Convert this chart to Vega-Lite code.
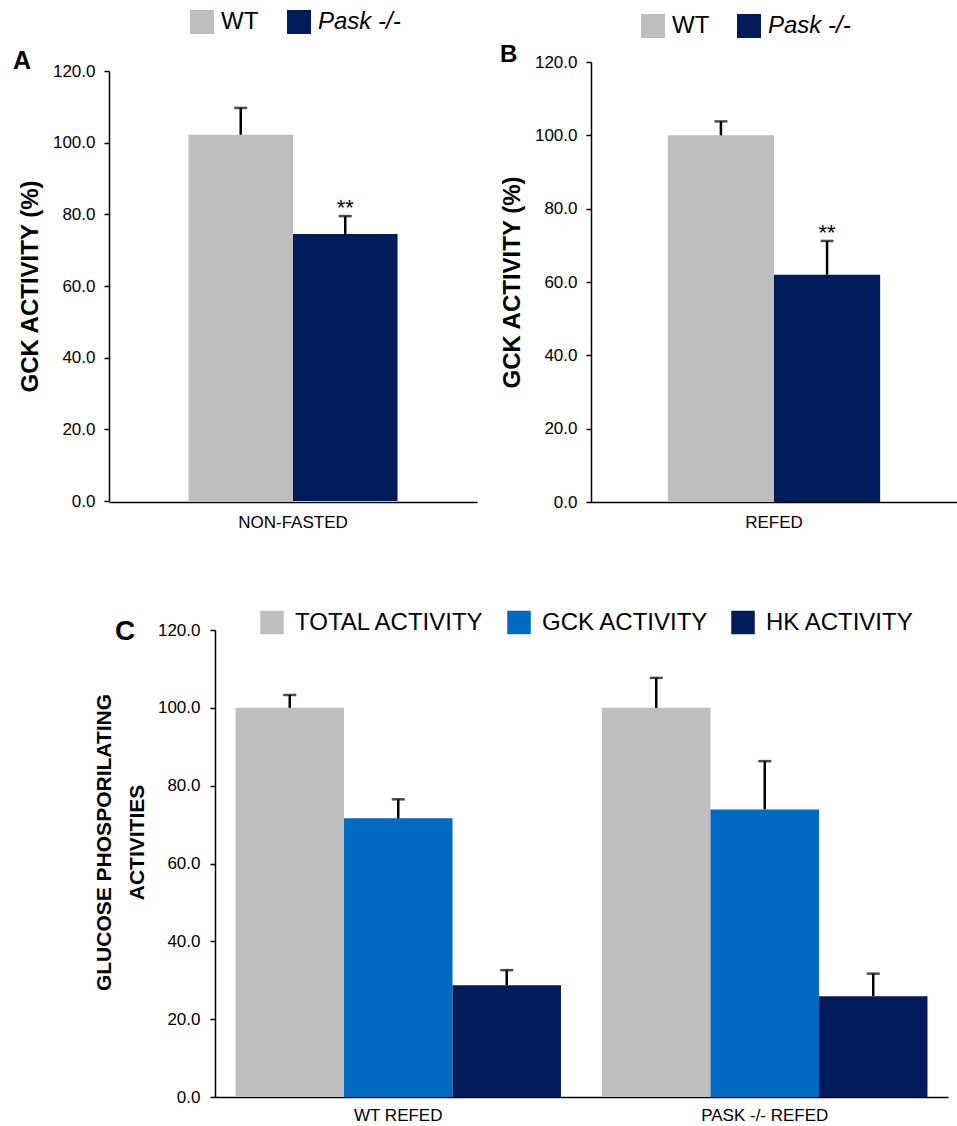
{
  "$schema": "https://vega.github.io/schema/vega-lite/v6.json",
  "usermeta": {"embedOptions": {"actions": false}},
  "padding": {"left": 13, "top": 10, "right": 0, "bottom": 0},
  "config": {
    "font": "Liberation Sans",
    "view": {"stroke": null},
    "axis": {"domainColor": "#000", "tickColor": "#000", "labelColor": "#000", "titleColor": "#000", "grid": false, "domainWidth": 1.5, "tickWidth": 1.5, "labelFontSize": 17, "labelFont": "Liberation Sans", "titleFont": "Liberation Sans"},
    "legend": {"labelFont": "Liberation Sans", "labelColor": "#000", "labelLimit": 400},
    "title": {"font": "Liberation Sans", "color": "#000"}
  },
  "datasets": {
    "panelA": [
      {"group": "NON-FASTED", "genotype": "WT", "value": 102.2, "upper": 109.7, "sig": ""},
      {"group": "NON-FASTED", "genotype": "Pask -/-", "value": 74.5, "upper": 79.5, "sig": "**"}
    ],
    "panelB": [
      {"group": "REFED", "genotype": "WT", "value": 100.0, "upper": 103.8, "sig": ""},
      {"group": "REFED", "genotype": "Pask -/-", "value": 62.0, "upper": 71.2, "sig": "**"}
    ],
    "panelC": [
      {"group": "WT REFED", "activity": "TOTAL ACTIVITY", "value": 100.0, "upper": 103.3},
      {"group": "WT REFED", "activity": "GCK ACTIVITY", "value": 71.6, "upper": 76.5},
      {"group": "WT REFED", "activity": "HK ACTIVITY", "value": 28.7, "upper": 32.6},
      {"group": "PASK -/-  REFED", "activity": "TOTAL ACTIVITY", "value": 100.0, "upper": 107.7},
      {"group": "PASK -/-  REFED", "activity": "GCK ACTIVITY", "value": 73.9, "upper": 86.3},
      {"group": "PASK -/-  REFED", "activity": "HK ACTIVITY", "value": 25.9, "upper": 31.7}
    ]
  },
  "columns": 2,
  "align": "none",
  "bounds": "flush",
  "spacing": {"row": 128, "column": 114},
  "resolve": {"scale": {"color": "independent", "x": "independent", "y": "independent", "xOffset": "independent"}, "legend": {"color": "independent"}},
  "concat": [
    {
      "width": 368,
      "height": 440,
      "data": {"name": "panelA"},
      "title": {"text": "A", "anchor": "start", "frame": "group", "dx": -96, "dy": 84, "offset": 0, "baseline": "alphabetic", "fontSize": 25, "fontWeight": "bold"},
      "encoding": {
        "x": {"field": "group", "type": "nominal", "scale": {"paddingInner": 0, "paddingOuter": 0.38}, "axis": {"title": null, "ticks": false, "labelAngle": 0, "labelPadding": 12}},
        "xOffset": {"field": "genotype", "type": "nominal", "sort": ["WT", "Pask -/-"], "scale": {"paddingInner": 0, "paddingOuter": 0}}
      },
      "layer": [
        {
          "mark": {"type": "bar"},
          "encoding": {
            "y": {"field": "value", "type": "quantitative", "scale": {"domain": [0, 120], "range": [439, 9], "nice": false},
              "axis": {"title": "GCK ACTIVITY (%)", "titleFontSize": 24, "titleFontWeight": "bold", "titlePadding": 10, "values": [0, 20, 40, 60, 80, 100, 120], "format": ".1f", "labelPadding": 9, "tickSize": 5}},
            "color": {"field": "genotype", "type": "nominal", "sort": ["WT", "Pask -/-"],
              "scale": {"domain": ["WT", "Pask -/-"], "range": ["#BEBEBE", "#001B5A"]},
              "legend": {"orient": "none", "legendX": 81, "legendY": -52, "direction": "horizontal", "title": null, "symbolType": "square", "symbolSize": 576, "symbolStrokeWidth": 0, "labelFontSize": 24, "labelOffset": 7, "columnPadding": 28, "padding": 0,
                "encode": {"labels": {"update": {"fontStyle": {"signal": "datum.value === 'WT' ? 'normal' : 'italic'"}}}}}}
          }
        },
        {
          "mark": {"type": "rule", "color": "#000", "strokeWidth": 2.5},
          "encoding": {"y": {"field": "value", "type": "quantitative"}, "y2": {"field": "upper"}}
        },
        {
          "mark": {"type": "tick", "color": "#000", "thickness": 2.5, "size": 13},
          "encoding": {"y": {"field": "upper", "type": "quantitative"}}
        },
        {
          "mark": {"type": "text", "fontSize": 22, "dy": -1, "baseline": "alphabetic", "color": "#000"},
          "encoding": {"y": {"field": "upper", "type": "quantitative"}, "text": {"field": "sig"}}
        }
      ]
    },
    {
      "width": 366,
      "height": 440,
      "data": {"name": "panelB"},
      "title": {"text": "B", "anchor": "start", "frame": "group", "dx": -91, "dy": 72, "offset": 0, "baseline": "alphabetic", "fontSize": 24, "fontWeight": "bold"},
      "encoding": {
        "x": {"field": "group", "type": "nominal", "scale": {"paddingInner": 0, "paddingOuter": 0.362}, "axis": {"title": null, "ticks": false, "labelAngle": 0, "labelPadding": 12}},
        "xOffset": {"field": "genotype", "type": "nominal", "sort": ["WT", "Pask -/-"], "scale": {"paddingInner": 0, "paddingOuter": 0}}
      },
      "layer": [
        {
          "mark": {"type": "bar"},
          "encoding": {
            "y": {"field": "value", "type": "quantitative", "scale": {"domain": [0, 120], "nice": false},
              "axis": {"title": "GCK ACTIVITY (%)", "titleFontSize": 24, "titleFontWeight": "bold", "titlePadding": 10, "values": [0, 20, 40, 60, 80, 100, 120], "format": ".1f", "labelPadding": 9, "tickSize": 5}},
            "color": {"field": "genotype", "type": "nominal", "sort": ["WT", "Pask -/-"],
              "scale": {"domain": ["WT", "Pask -/-"], "range": ["#BEBEBE", "#001B5A"]},
              "legend": {"orient": "none", "legendX": 50, "legendY": -48, "direction": "horizontal", "title": null, "symbolType": "square", "symbolSize": 576, "symbolStrokeWidth": 0, "labelFontSize": 24, "labelOffset": 7, "columnPadding": 27, "padding": 0,
                "encode": {"labels": {"update": {"fontStyle": {"signal": "datum.value === 'WT' ? 'normal' : 'italic'"}}}}}}
          }
        },
        {
          "mark": {"type": "rule", "color": "#000", "strokeWidth": 2.5},
          "encoding": {"y": {"field": "value", "type": "quantitative"}, "y2": {"field": "upper"}}
        },
        {
          "mark": {"type": "tick", "color": "#000", "thickness": 2.5, "size": 13},
          "encoding": {"y": {"field": "upper", "type": "quantitative"}}
        },
        {
          "mark": {"type": "text", "fontSize": 22, "dy": -1, "baseline": "alphabetic", "color": "#000"},
          "encoding": {"y": {"field": "upper", "type": "quantitative"}, "text": {"field": "sig"}}
        }
      ]
    },
    {
      "width": 368,
      "height": 467,
      "data": {"name": "panelC"},
      "title": {"text": "C", "anchor": "start", "frame": "group", "dx": 6, "dy": 57, "offset": 0, "baseline": "alphabetic", "fontSize": 28, "fontWeight": "bold"},
      "encoding": {
        "x": {"field": "group", "type": "nominal", "sort": ["WT REFED", "PASK -/-  REFED"], "scale": {"range": [106, 839], "paddingInner": 0.112, "paddingOuter": 0.056}, "axis": {"title": null, "ticks": false, "labelAngle": 0, "labelPadding": 10}},
        "xOffset": {"field": "activity", "type": "nominal", "sort": ["TOTAL ACTIVITY", "GCK ACTIVITY", "HK ACTIVITY"], "scale": {"paddingInner": 0, "paddingOuter": 0}}
      },
      "layer": [
        {
          "mark": {"type": "bar"},
          "encoding": {
            "y": {"field": "value", "type": "quantitative", "scale": {"domain": [0, 120], "nice": false},
              "axis": {"offset": -106, "title": ["GLUCOSE PHOSPORILATING", "ACTIVITIES"], "titleFontSize": 21, "titleFontWeight": "bold", "titleLineHeight": 33, "titlePadding": 10, "titleY": 212, "values": [0, 20, 40, 60, 80, 100, 120], "format": ".1f", "labelPadding": 10, "tickSize": 5}},
            "color": {"field": "activity", "type": "nominal", "sort": ["TOTAL ACTIVITY", "GCK ACTIVITY", "HK ACTIVITY"],
              "scale": {"domain": ["TOTAL ACTIVITY", "GCK ACTIVITY", "HK ACTIVITY"], "range": ["#BEBEBE", "#0069C0", "#001B5A"]},
              "legend": {"orient": "none", "legendX": 151, "legendY": -19.5, "direction": "horizontal", "title": null, "symbolType": "square", "symbolSize": 552, "symbolStrokeWidth": 0, "labelFontSize": 24, "labelOffset": 11, "columnPadding": 22, "padding": 0}}
          }
        },
        {
          "mark": {"type": "rule", "color": "#000", "strokeWidth": 2.5},
          "encoding": {"y": {"field": "value", "type": "quantitative"}, "y2": {"field": "upper"}}
        },
        {
          "mark": {"type": "tick", "color": "#000", "thickness": 2.5, "size": 13},
          "encoding": {"y": {"field": "upper", "type": "quantitative"}}
        }
      ]
    }
  ]
}
